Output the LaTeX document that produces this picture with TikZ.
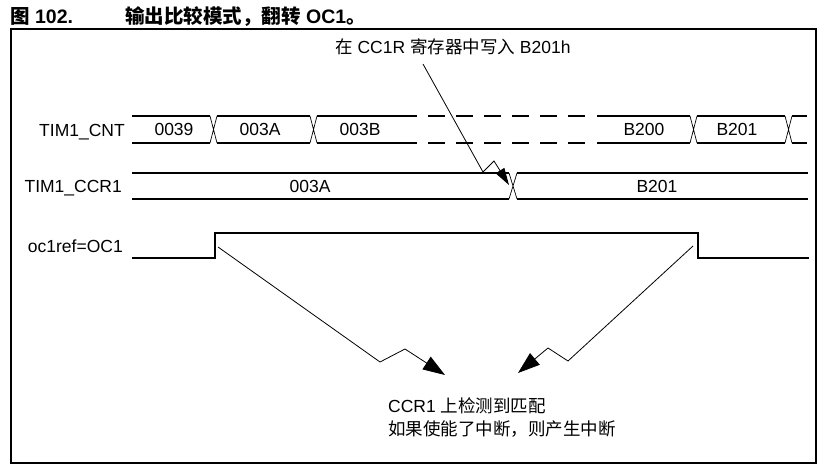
\documentclass[tikz,border=0pt]{standalone}
\usepackage{fontspec}
\setmainfont{Liberation Sans}
\newfontfamily\cjk{Noto Sans CJK SC}
\usetikzlibrary{arrows.meta,positioning}

\begin{document}
\begin{tikzpicture}[x=1pt, y=-1pt,
    bus/.style={line width=2pt},
    xing/.style={line width=0.7pt},
    sig/.style={anchor=base east, inner sep=0pt},
    val/.style={anchor=base, inner sep=0pt},
    txt/.style={anchor=base west, inner sep=0pt},
    bolt/.style={line width=0.8pt, -{Triangle[length=22pt,width=15pt]}},
    smallbolt/.style={line width=0.8pt, -{Triangle[length=17pt,width=10pt]}},
    every node/.style={font=\fontsize{17.5}{20}\selectfont}]
  \useasboundingbox (0,0) rectangle (824,470);

  % --- Title and frame ---
  \node[txt, font=\fontsize{19.5}{22}\selectfont\bfseries] (fignum) at (10,24) {{\cjk 图} 102.};
  \node[txt, font=\fontsize{19.5}{22}\selectfont\bfseries] (title) at (125,24) {{\cjk 输出比较模式，翻转} OC1{\cjk 。}};
  \draw[line width=2.5pt] (11,29) rectangle (816,463);

  % --- TIM1_CNT ---
  \node[sig] (cnt) at (125,137) {TIM1\_CNT};
  \draw[bus] (132,116) -- (210,116) (217,116) -- (310,116) (317,116) -- (417,116)
             (597,116) -- (690,116) (697,116) -- (785,116) (792,116) -- (807,116);
  \draw[bus] (132,143) -- (210,143) (217,143) -- (310,143) (317,143) -- (417,143)
             (597,143) -- (690,143) (697,143) -- (785,143) (792,143) -- (807,143);
  \draw[bus, dash pattern=on 17pt off 11pt] (428,116) -- (586,116) (428,143) -- (586,143);
  \draw[xing] (210,116) -- (217,143) (210,143) -- (217,116);
  \draw[xing] (310,116) -- (317,143) (310,143) -- (317,116);
  \draw[xing] (690,116) -- (697,143) (690,143) -- (697,116);
  \draw[xing] (785,116) -- (792,143) (785,143) -- (792,116);
  \node[val] (c39) at (174,136) {0039};
  \node[val] (c3a) at (260,136) {003A};
  \node[val] (c3b) at (360,136) {003B};
  \node[val] (cb200) at (644,136) {B200};
  \node[val] (cb201) at (737,136) {B201};

  % --- TIM1_CCR1 ---
  \node[sig] (ccr) at (122,193) {TIM1\_CCR1};
  \draw[bus] (132,173) -- (509,173) (517,173) -- (808,173);
  \draw[bus] (132,199) -- (509,199) (517,199) -- (808,199);
  \draw[xing] (509,173) -- (517,199) (509,199) -- (517,173);
  \node[val] (r3a) at (310,193) {003A};
  \node[val] (rb201) at (657,193) {B201};

  % --- oc1ref ---
  \node[sig] (oc) at (123,253) {oc1ref=OC1};
  \draw[bus] (132,258) -- (215,258) -- (215,233) -- (698,233) -- (698,258) -- (809,258);

  % Write to CCR1
  \node[txt] (note) at (335,54) {{\cjk 在} CC1R {\cjk 寄存器中写入} B201h};
  \coordinate (wr) at (423,64);
  \coordinate (hit) at (509,185);
  \draw[smallbolt] (wr) -- (483,172) -- (494,161) -- (hit);

  % Match events
  \node[txt] (match) at (388,412) {CCR1 {\cjk 上检测到匹配}};
  \node[txt] (irq) at (388,435) {\cjk 如果使能了中断，则产生中断};
  \coordinate (rise) at (218,247);
  \coordinate (fall) at (693,246);
  \coordinate (tipl) at (445,375);
  \coordinate (tipr) at (518,373);
  \draw[bolt] (rise) -- (380,362) -- (405,349) -- (tipl);
  \draw[bolt] (fall) -- (568,361) -- (548,348) -- (tipr);
\end{tikzpicture}
\end{document}
